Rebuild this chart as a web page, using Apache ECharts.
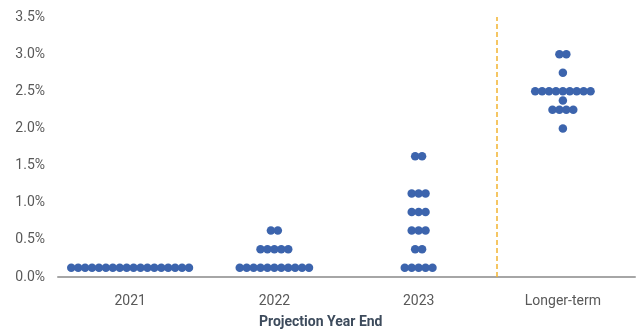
<!DOCTYPE html>
<html>
<head>
<meta charset="utf-8">
<script src="https://cdn.jsdelivr.net/npm/echarts@6/dist/echarts.min.js"></script>
<style>
  html, body { margin: 0; padding: 0; background: #ffffff; }
  #chart { width: 641px; height: 332px; }
</style>
</head>
<body>
<div id="chart"></div>
<script>
// ---- Data (FOMC participants' projections, midpoint of target range, %) ----
const categories = ['2021', '2022', '2023', 'Longer-term'];

const rates2021 = [0.125];
const counts2021 = [18];

const rates2022 = [0.125, 0.375, 0.625];
const counts2022 = [11, 5, 2];

const rates2023 = [0.125, 0.375, 0.625, 0.875, 1.125, 1.625];
const counts2023 = [5, 2, 3, 3, 3, 2];

const ratesLonger = [2.0, 2.25, 2.375, 2.5, 2.75, 3.0];
const countsLonger = [1, 4, 1, 9, 1, 2];

const yTicks = [0, 0.5, 1.0, 1.5, 2.0, 2.5, 3.0, 3.5];

// ---- Build dot positions (category index + horizontal spread within a row) ----
const DOT_SPREAD = 0.048;     // horizontal gap between adjacent dots, in category units
const SEPARATOR_X = 2.535;    // dashed divider between 2023 and Longer-term

const groups = [
  [rates2021, counts2021],
  [rates2022, counts2022],
  [rates2023, counts2023],
  [ratesLonger, countsLonger]
];
const dotData = [];
groups.forEach(function (g, ci) {
  const rates = g[0], counts = g[1];
  rates.forEach(function (r, k) {
    const n = counts[k];
    for (let i = 0; i < n; i++) {
      dotData.push([ci + (i - (n - 1) / 2) * DOT_SPREAD, r]);
    }
  });
});

const chart = echarts.init(document.getElementById('chart'), null, { renderer: 'canvas' });
chart.setOption({
  backgroundColor: '#ffffff',
  animation: false,
  title: {
    text: 'Projection Year End',
    left: 259,
    top: 315,
    padding: 0,
    textStyle: {
      fontFamily: 'Roboto, "Liberation Sans", sans-serif',
      fontSize: 14,
      fontWeight: 'bold',
      color: '#3d4b5c'
    }
  },
  grid: { left: 58, right: 6, top: 17, bottom: 55, containLabel: false },
  xAxis: [
    {
      type: 'category',
      data: categories,
      boundaryGap: true,
      axisLine: { show: true, lineStyle: { color: '#a6a6a6', width: 2 } },
      axisTick: { show: false },
      axisLabel: {
        margin: 17,
        fontFamily: 'Roboto, "Liberation Sans", sans-serif',
        fontSize: 14,
        color: '#595959'
      },
      splitLine: { show: false }
    },
    {
      type: 'value',
      min: -0.5,
      max: 3.5,
      show: false,
      splitLine: { show: false }
    }
  ],
  yAxis: {
    type: 'value',
    min: yTicks[0],
    max: yTicks[yTicks.length - 1],
    interval: 0.5,
    axisLine: { show: false },
    axisTick: { show: false },
    splitLine: { show: false },
    axisLabel: {
      margin: 13,
      fontFamily: 'Roboto, "Liberation Sans", sans-serif',
      fontSize: 14,
      color: '#595959',
      formatter: function (v) { return v.toFixed(1) + '%'; }
    }
  },
  series: [
    {
      type: 'scatter',
      xAxisIndex: 1,
      yAxisIndex: 0,
      data: dotData,
      symbol: 'circle',
      symbolSize: 8.5,
      itemStyle: { color: '#3c64ad', opacity: 1 },
      markLine: {
        silent: true,
        symbol: ['none', 'none'],
        label: { show: false },
        lineStyle: { color: '#f2b431', type: [5, 3], width: 1.5 },
        data: [{ xAxis: SEPARATOR_X }]
      }
    }
  ]
});
</script>
</body>
</html>
